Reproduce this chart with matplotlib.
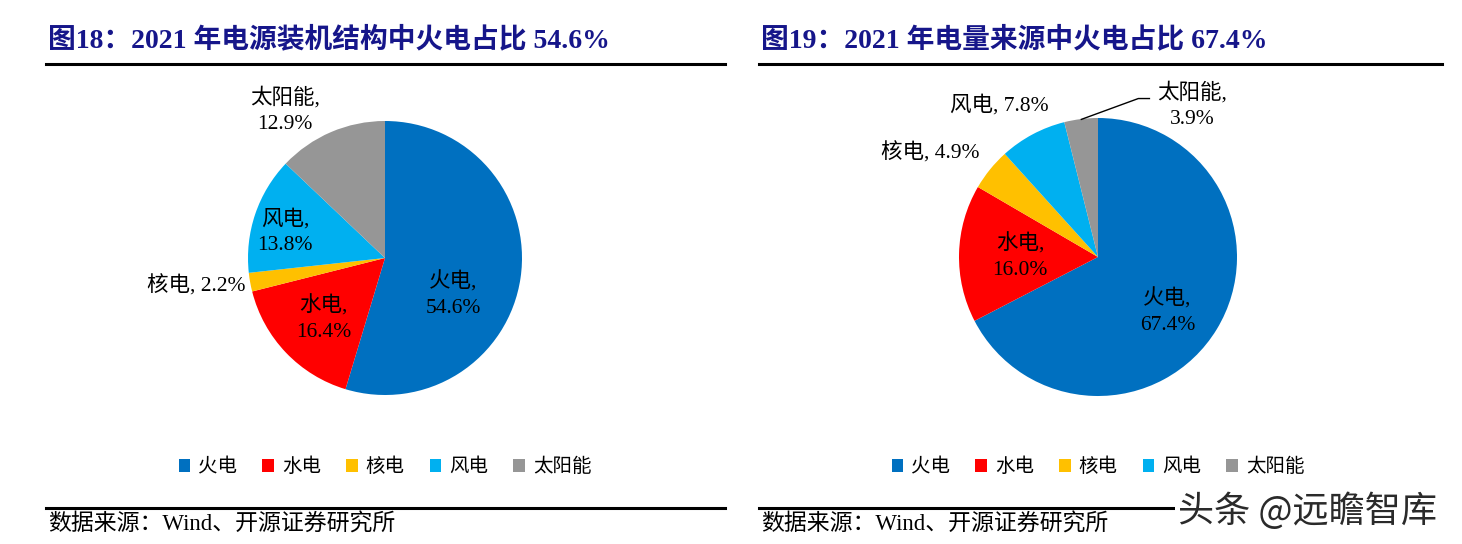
import matplotlib
matplotlib.use("Agg")
import matplotlib.pyplot as plt

W, H = 1462, 544

sources = ['火电', '水电', '核电', '风电', '太阳能']
colors = ['#0070C0', '#FF0000', '#FFC000', '#00B0F0', '#969696']

cap_share = [54.6, 16.4, 2.2, 13.8, 12.9]   # 图18 装机结构
gen_share = [67.4, 16.0, 4.9, 7.8, 3.9]     # 图19 电量来源

cap_title = '图18：2021 年电源装机结构中火电占比 54.6%'
gen_title = '图19：2021 年电量来源中火电占比 67.4%'
source_note = '数据来源：Wind、开源证券研究所'

SERIF = ['Liberation Serif', 'Noto Sans CJK SC', 'DejaVu Sans']
NAVY = '#16168a'

# label offsets (axes data units, pie radius = 1)
cap_label_pos = [(0.50, -0.27), (-0.45, -0.44), (-1.38, -0.20), (-0.73, 0.19), (-0.73, 1.08)]
cap_label_fmt = ['{},\n{:.1f}%', '{},\n{:.1f}%', '{}, {:.1f}%', '{},\n{:.1f}%', '{},\n{:.1f}%']
gen_label_pos = [(0.50, -0.39), (-0.56, 0.0), (-1.21, 0.75), (-0.71, 1.09), (0.68, 1.09)]
gen_label_fmt = ['{},\n{:.1f}%', '{},\n{:.1f}%', '{}, {:.1f}%', '{}, {:.1f}%', '{},\n{:.1f}%']


def fx(x):
    return x / W


def fy(y):
    return 1 - y / H


fig = plt.figure(figsize=(W / 100, H / 100), dpi=100)


def panel(x0, x1, cx, cy, r, values, title, label_pos, label_fmt, bottom_end, leader=None):
    fig.text(fx(x0 + 2), fy(40), title, family=SERIF, fontsize=20, fontweight='bold',
             color=NAVY, va='center', ha='left')
    fig.add_artist(plt.Line2D([fx(x0), fx(x1)], [fy(64), fy(64)], color='black', lw=2.2))
    fig.add_artist(plt.Line2D([fx(x0), fx(bottom_end)], [fy(508), fy(508)], color='black', lw=2.2))
    fig.text(fx(x0 + 2), fy(525), source_note, family=SERIF, fontsize=16.5,
             va='center', ha='left')

    ax = fig.add_axes([fx(cx - r), fy(cy + r), 2 * r / W, 2 * r / H])
    wedges, _ = ax.pie(values, colors=colors, startangle=90, counterclock=False, radius=1)
    ax.set_xlim(-1, 1)
    ax.set_ylim(-1, 1)
    ax.axis('off')
    for name, v, (lx, ly), fmt in zip(sources, values, label_pos, label_fmt):
        ax.text(lx, ly, fmt.format(name, v), family=SERIF, fontsize=15.5, ha='center',
                va='center', linespacing=1.45, clip_on=False)
    if leader is not None:
        ax.plot(leader[0], leader[1], color='black', lw=1, clip_on=False)

    fig.legend(wedges, sources, loc='center', bbox_to_anchor=(fx(cx), fy(467)),
               ncol=5, frameon=False, handlelength=0.6, handleheight=0.6,
               handletextpad=0.4, columnspacing=1.3,
               prop={'family': SERIF, 'size': 14})
    return ax


panel(46, 725, 385, 258, 137, cap_share, cap_title, cap_label_pos, cap_label_fmt, 725)
panel(759, 1442, 1098, 257, 139, gen_share, gen_title, gen_label_pos, gen_label_fmt, 1190,
      leader=([-0.12, 0.29, 0.37], [0.99, 1.14, 1.14]))

# watermark
fig.text(fx(1178), fy(511), '头条 @远瞻智库', family=['Noto Sans CJK SC', 'DejaVu Sans'],
         fontsize=26, color='#2a2a2a', va='center', ha='left',
         bbox=dict(facecolor='white', edgecolor='none', pad=2))

fig.savefig('out.png', dpi=100)
